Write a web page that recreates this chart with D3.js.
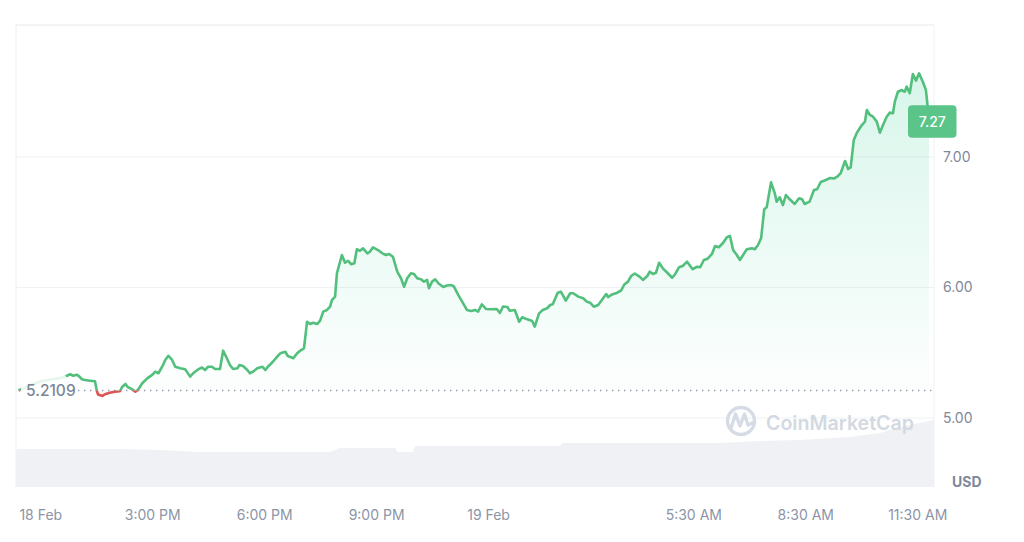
<!DOCTYPE html>
<html><head><meta charset="utf-8">
<script src="https://cdn.jsdelivr.net/npm/d3@7"></script>
<style>html,body{margin:0;padding:0;background:#fff;}svg{display:block;font-family:Inter,"Noto Sans",sans-serif;}</style>
</head><body><svg id="chart" width="1024" height="542"></svg>
<script>
// ---- data (minutes since 18 Feb 00:00) ----
const minutes = [685,694,704,714,723,733,742,752,759,763,768,773,779,783,787,792,800,808,811,813,820,824,832,840,848,852,857,861,865,869,873,877,884,892,900,905,910,916,921,926,932,937,945,953,961,966,974,980,985,990,996,1001,1009,1014,1020,1025,1030,1037,1040,1046,1053,1057,1062,1069,1077,1082,1086,1094,1101,1106,1114,1118,1127,1133,1138,1144,1149,1154,1159,1165,1170,1175,1181,1186,1189,1194,1197,1205,1210,1215,1220,1225,1229,1234,1239,1246,1250,1255,1263,1270,1276,1281,1287,1294,1300,1305,1310,1316,1321,1326,1332,1337,1342,1345,1350,1355,1360,1368,1374,1381,1385,1392,1400,1406,1413,1419,1424,1430,1437,1445,1454,1459,1464,1471,1475,1483,1490,1495,1503,1511,1515,1522,1528,1535,1540,1544,1552,1557,1560,1565,1572,1577,1585,1593,1599,1604,1610,1617,1623,1630,1633,1639,1647,1654,1659,1665,1670,1676,1684,1689,1696,1700,1705,1710,1715,1721,1729,1736,1740,1747,1753,1760,1765,1769,1776,1781,1787,1793,1800,1805,1811,1818,1824,1829,1834,1840,1845,1850,1856,1864,1869,1874,1879,1884,1888,1895,1901,1904,1909,1914,1919,1925,1933,1940,1945,1949,1957,1964,1969,1975,1983,1990,1996,2002,2007,2014,2019,2023,2028,2033,2041,2046,2049,2054,2059,2065,2070,2075,2081,2086,2091,2094,2099,2105,2110,2113,2118,2123,2128,2133,2139,2144,2146,2149];
const prices = [5.211,5.230,5.253,5.268,5.284,5.291,5.299,5.307,5.314,5.324,5.335,5.324,5.332,5.317,5.297,5.291,5.286,5.281,5.207,5.180,5.169,5.182,5.194,5.202,5.205,5.240,5.261,5.235,5.228,5.215,5.202,5.215,5.266,5.304,5.330,5.355,5.343,5.393,5.445,5.477,5.445,5.393,5.381,5.373,5.317,5.343,5.373,5.387,5.368,5.393,5.393,5.376,5.376,5.516,5.458,5.406,5.376,5.381,5.406,5.399,5.368,5.343,5.355,5.381,5.393,5.368,5.393,5.431,5.470,5.496,5.508,5.475,5.458,5.496,5.516,5.534,5.738,5.720,5.730,5.720,5.746,5.815,5.828,5.853,5.904,5.930,6.109,6.249,6.190,6.205,6.178,6.186,6.293,6.282,6.300,6.262,6.274,6.308,6.287,6.262,6.249,6.257,6.236,6.121,6.071,6.006,6.071,6.109,6.104,6.071,6.063,6.045,6.058,5.994,6.045,6.063,6.032,6.004,6.015,6.019,6.008,5.943,5.879,5.828,5.820,5.828,5.815,5.870,5.835,5.833,5.835,5.805,5.854,5.851,5.822,5.828,5.738,5.772,5.756,5.743,5.700,5.802,5.828,5.841,5.866,5.871,5.960,5.968,5.943,5.899,5.956,5.956,5.930,5.917,5.891,5.884,5.853,5.866,5.904,5.950,5.927,5.946,5.958,5.977,6.023,6.045,6.088,6.107,6.081,6.058,6.088,6.121,6.104,6.113,6.190,6.147,6.109,6.075,6.096,6.155,6.165,6.198,6.165,6.140,6.159,6.155,6.211,6.221,6.257,6.318,6.308,6.343,6.385,6.395,6.287,6.249,6.211,6.249,6.293,6.300,6.293,6.326,6.377,6.599,6.615,6.806,6.722,6.658,6.691,6.632,6.709,6.676,6.640,6.684,6.676,6.640,6.658,6.747,6.753,6.809,6.824,6.839,6.835,6.851,6.877,6.969,6.908,6.920,7.130,7.186,7.245,7.271,7.360,7.322,7.309,7.271,7.186,7.245,7.309,7.340,7.335,7.424,7.500,7.513,7.500,7.539,7.488,7.636,7.585,7.641,7.577,7.513,7.424,7.27];
const volMinutes = [681,849,913,977,1186,1202,1291,1294,1319,1323,1556,1559,1813,1877,1941,2022,2070,2102,2157];
const volumes =    [38,38,37,35,35,39,39,35,35,41,41,44,44,46,47,50,54,60,67];
const xTickMinutes = [720,900,1080,1260,1440,1770,1950,2130];
const xTickLabels = ["18 Feb","3:00 PM","6:00 PM","9:00 PM","19 Feb","5:30 AM","8:30 AM","11:30 AM"];
const yTicks = [5,6,7];
const yTickLabels = ["5.00","6.00","7.00"];
const openPrice = 5.2109, openLabel = "5.2109";
const lastPrice = 7.27, lastLabel = "7.27";
const currency = "USD", watermark = "CoinMarketCap";
const domainMinutes = [681,2157];

// ---- layout ----
const L=16,R=934,T=25,B=487;
const GREEN="#53bf7d", RED="#dd5656", FILLG="#16c784";
const t0 = new Date(2024,1,18).getTime();
const toDate = m => new Date(t0 + m*60000);
const svg = d3.select("#chart");
const x = d3.scaleTime().domain(domainMinutes.map(toDate)).range([L,R]);
const y = d3.scaleLinear().domain([4.4713,8.0115]).range([B,T]);
const yv = d3.scaleLinear().domain([0,100]).range([B,B-100]);
const data = minutes.map((m,i)=>({t:toDate(m),p:prices[i]}));
const vdata = volMinutes.map((m,i)=>({t:toDate(m),v:volumes[i]}));
const yBase = y(openPrice);

const defs = svg.append("defs");
const gg = defs.append("linearGradient").attr("id","gFill").attr("gradientUnits","userSpaceOnUse")
  .attr("x1",0).attr("x2",0).attr("y1",y(7.7)).attr("y2",yBase);
gg.append("stop").attr("offset",0).attr("stop-color",FILLG).attr("stop-opacity",0.17);
gg.append("stop").attr("offset",1).attr("stop-color",FILLG).attr("stop-opacity",0.01);
defs.append("clipPath").attr("id","above").append("rect").attr("x",L).attr("y",T).attr("width",R-L).attr("height",yBase-T);
defs.append("clipPath").attr("id","below").append("rect").attr("x",L).attr("y",yBase).attr("width",R-L).attr("height",B-yBase);

// frame
svg.append("line").attr("x1",L).attr("x2",R).attr("y1",T).attr("y2",T).attr("stroke","#e7eaee").attr("stroke-width",1.2);
svg.append("line").attr("x1",L).attr("x2",L).attr("y1",T).attr("y2",B).attr("stroke","#eef0f3");
svg.append("line").attr("x1",R).attr("x2",R).attr("y1",T).attr("y2",B).attr("stroke","#f0f2f5");

// volume
svg.append("path").datum(vdata).attr("fill","#eff1f4")
  .attr("d",d3.area().x(d=>x(d.t)).y0(B).y1(d=>yv(d.v)));

// grid
svg.selectAll(".grid").data(yTicks).join("line")
  .attr("x1",L).attr("x2",R).attr("y1",d=>y(d)).attr("y2",d=>y(d))
  .attr("stroke","#eff1f4").attr("stroke-width",1);

// y axis labels
const yAxis = d3.axisRight(y).tickValues(yTicks).tickFormat((d,i)=>yTickLabels[i]).tickSize(0).tickPadding(0);
const ga = svg.append("g").attr("transform",`translate(${R+9},0)`).call(yAxis);
ga.select(".domain").remove();
ga.selectAll("text").attr("font-size",14).attr("fill","#7f889b").attr("font-family","Inter");

// x axis labels
const xAxis = d3.axisBottom(x).tickValues(xTickMinutes.map(toDate)).tickFormat((d,i)=>xTickLabels[i]).tickSize(0).tickPadding(0);
const gx = svg.append("g").attr("transform",`translate(0,${B+23})`).call(xAxis);
gx.select(".domain").remove();
gx.selectAll("text").attr("font-size",14).attr("fill","#8c94a6").attr("font-family","Inter");

svg.append("text").attr("x",952).attr("y",486.5).attr("font-size",14).attr("font-weight",700).attr("fill","#7f889b").text(currency);

// watermark
const wm = svg.append("g").attr("fill","none").attr("stroke","#d6dce5").attr("stroke-width",3.4).attr("stroke-linecap","round").attr("stroke-linejoin","round");
wm.append("circle").attr("cx",741).attr("cy",421).attr("r",13.5);
wm.append("path").attr("d","M731,428 L735.5,414 L740,426 L744.5,414 L748,425 L754.5,422");
svg.append("text").attr("x",766).attr("y",430).attr("font-size",19.6).attr("font-weight",600).attr("fill","#d3d9e2").text(watermark);

// area fills
const area = d3.area().x(d=>x(d.t)).y0(yBase).y1(d=>y(d.p));
svg.append("path").datum(data).attr("clip-path","url(#above)").attr("fill","url(#gFill)").attr("d",area);
svg.append("path").datum(data).attr("clip-path","url(#below)").attr("fill",RED).attr("fill-opacity",0.06).attr("d",area);

// baseline dotted
svg.append("line").attr("x1",78).attr("x2",R).attr("y1",yBase).attr("y2",yBase)
  .attr("stroke","#8e96a7").attr("stroke-width",1.3).attr("stroke-dasharray","1.3,4.7");

// price line
const line = d3.line().x(d=>x(d.t)).y(d=>y(d.p));
svg.append("path").datum(data).attr("clip-path","url(#above)").attr("fill","none").attr("stroke",GREEN).attr("stroke-width",2.6).attr("stroke-linejoin","round").attr("d",line);
svg.append("path").datum(data).attr("clip-path","url(#below)").attr("fill","none").attr("stroke",RED).attr("stroke-width",2.6).attr("stroke-linejoin","round").attr("d",line);

// open label
svg.append("rect").attr("x",21).attr("y",yBase-15).attr("width",45).attr("height",27).attr("fill","#fff").attr("fill-opacity",0.85);
svg.append("rect").attr("x",66).attr("y",yBase-13).attr("width",11).attr("height",25).attr("fill","#fff").attr("fill-opacity",0.85);
svg.append("text").attr("x",26).attr("y",yBase+5.5).attr("font-size",15.5).attr("font-weight",500).attr("fill","#7c8597").text(openLabel);

// last price label
const ly = y(lastPrice);
svg.append("rect").attr("x",908).attr("y",ly-16.5).attr("width",48.5).attr("height",32.5).attr("rx",4).attr("fill","#5ac489");
svg.append("text").attr("x",932.25).attr("y",ly+5).attr("text-anchor","middle").attr("font-size",14).attr("font-weight",500).attr("fill","#fff").text(lastLabel);
</script></body></html>
